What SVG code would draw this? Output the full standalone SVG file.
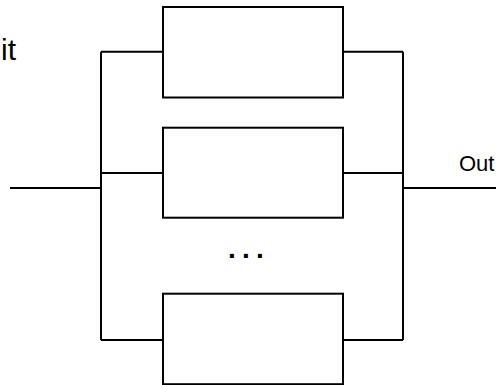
<svg xmlns="http://www.w3.org/2000/svg" width="503" height="385" viewBox="0 0 503 385">
<style>
.box{fill:#fff;stroke:#000;stroke-width:2}
.wire{fill:none;stroke:#000;stroke-width:2}
.lbl{font-family:"Liberation Sans",Arial,sans-serif;fill:#000}
</style>
<rect width="503" height="385" fill="#fff"/>
<text class="lbl" x="16" y="60" font-size="30" text-anchor="end">it</text>
<g id="connectors">
<path class="wire" d="M10 188H101M101 51.7V340M101 51.7H163M101 173H163M101 340H163"/>
<path class="wire" d="M343 51.7H403M343 173H403M343 340H403M403 51.7V340M403 188H496"/>
</g>
<g id="box1"><rect class="box" x="163" y="7" width="180" height="90.5"/></g>
<g id="box2"><rect class="box" x="163" y="127.7" width="180" height="90"/></g>
<g id="boxN"><rect class="box" x="163" y="293.7" width="180" height="90.5"/></g>
<g id="ellipsis"><text class="lbl" x="228" y="257.5" font-size="28" font-weight="bold" letter-spacing="6.2">...</text></g>
<g id="out"><text class="lbl" x="459" y="171" font-size="22">Out</text></g>
</svg>
